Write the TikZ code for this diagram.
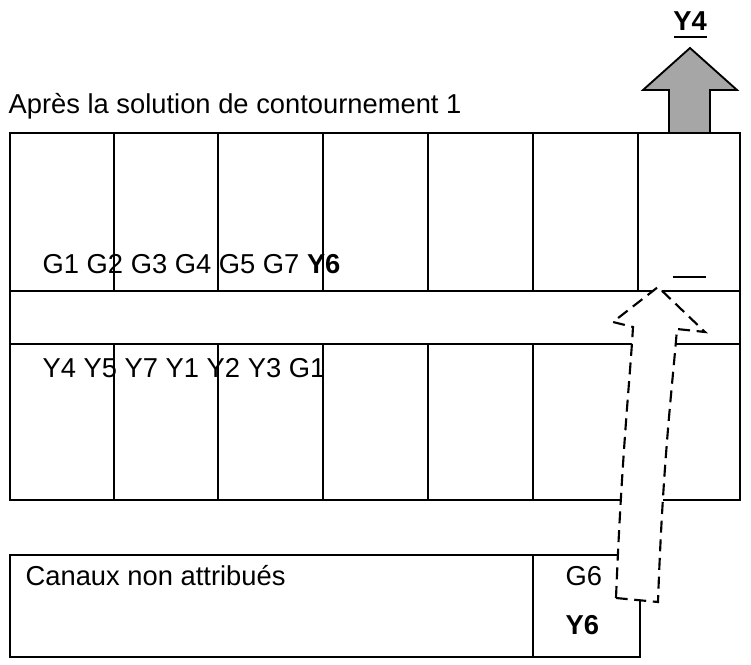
\documentclass[tikz,border=0pt]{standalone}
\usepackage{fontspec}
\setmainfont{Liberation Sans}
\begin{document}
\begin{tikzpicture}[x=0.75pt,y=-0.75pt,line width=1pt,
  lbl/.style={anchor=base west,inner sep=0pt,font=\fontsize{20.5}{24}\selectfont}]
  \useasboundingbox (0,0) rectangle (751,665);
  % channel grid
  \draw[line width=1.6pt] (10,133) rectangle (740,500);
  \draw (10,291) -- (740,291);
  \draw (10,344) -- (740,344);
  \foreach \x in {114,218,323,428,533,638} {
    \draw (\x,133) -- (\x,291);
    \draw (\x,344) -- (\x,500);
  }
  \node[lbl] (row1) at (42,273) {G1 G2 G3 G4 G5 G7 \textbf{Y6}};
  \node[lbl] (row2) at (42,377) {Y4 Y5 Y7 Y1 Y2 Y3 G1};
  \draw (673,277) -- (706,277);
  \node[lbl] (title) at (8,113) {Après la solution de contournement 1};
  % unassigned channels
  \draw[line width=1.6pt] (10,555) -- (533,555) -- (533,657) -- (10,657) -- cycle;
  \draw[line width=1.6pt] (533,555) -- (640,555) -- (640,657) -- (533,657);
  \node[lbl] (canaux) at (25,585) {Canaux non attribués};
  \node[lbl] (g6) at (565,585) {G6};
  \node[lbl] (y6) at (565,634) {\textbf{Y6}};
  % moved-out arrow
  \draw[line width=1.4pt,fill=gray!70] (669,133) -- (669,90) -- (643,90) -- (690,48)
    -- (737,90) -- (710,90) -- (710,133) -- cycle;
  \node[lbl,anchor=base] (y4) at (690,30) {\textbf{Y4}};
  \draw (674,37) -- (707,37);
  % dashed move arrow
  \draw[line width=1.6pt,dash pattern=on 9pt off 5pt,fill=white]
    (616,598) .. controls (622,450) and (630,380) .. (633,327) -- (613,322) -- (658,287)
    -- (705,332) -- (677,329) .. controls (672,390) and (663,460) .. (658,602) -- cycle;
\end{tikzpicture}
\end{document}
